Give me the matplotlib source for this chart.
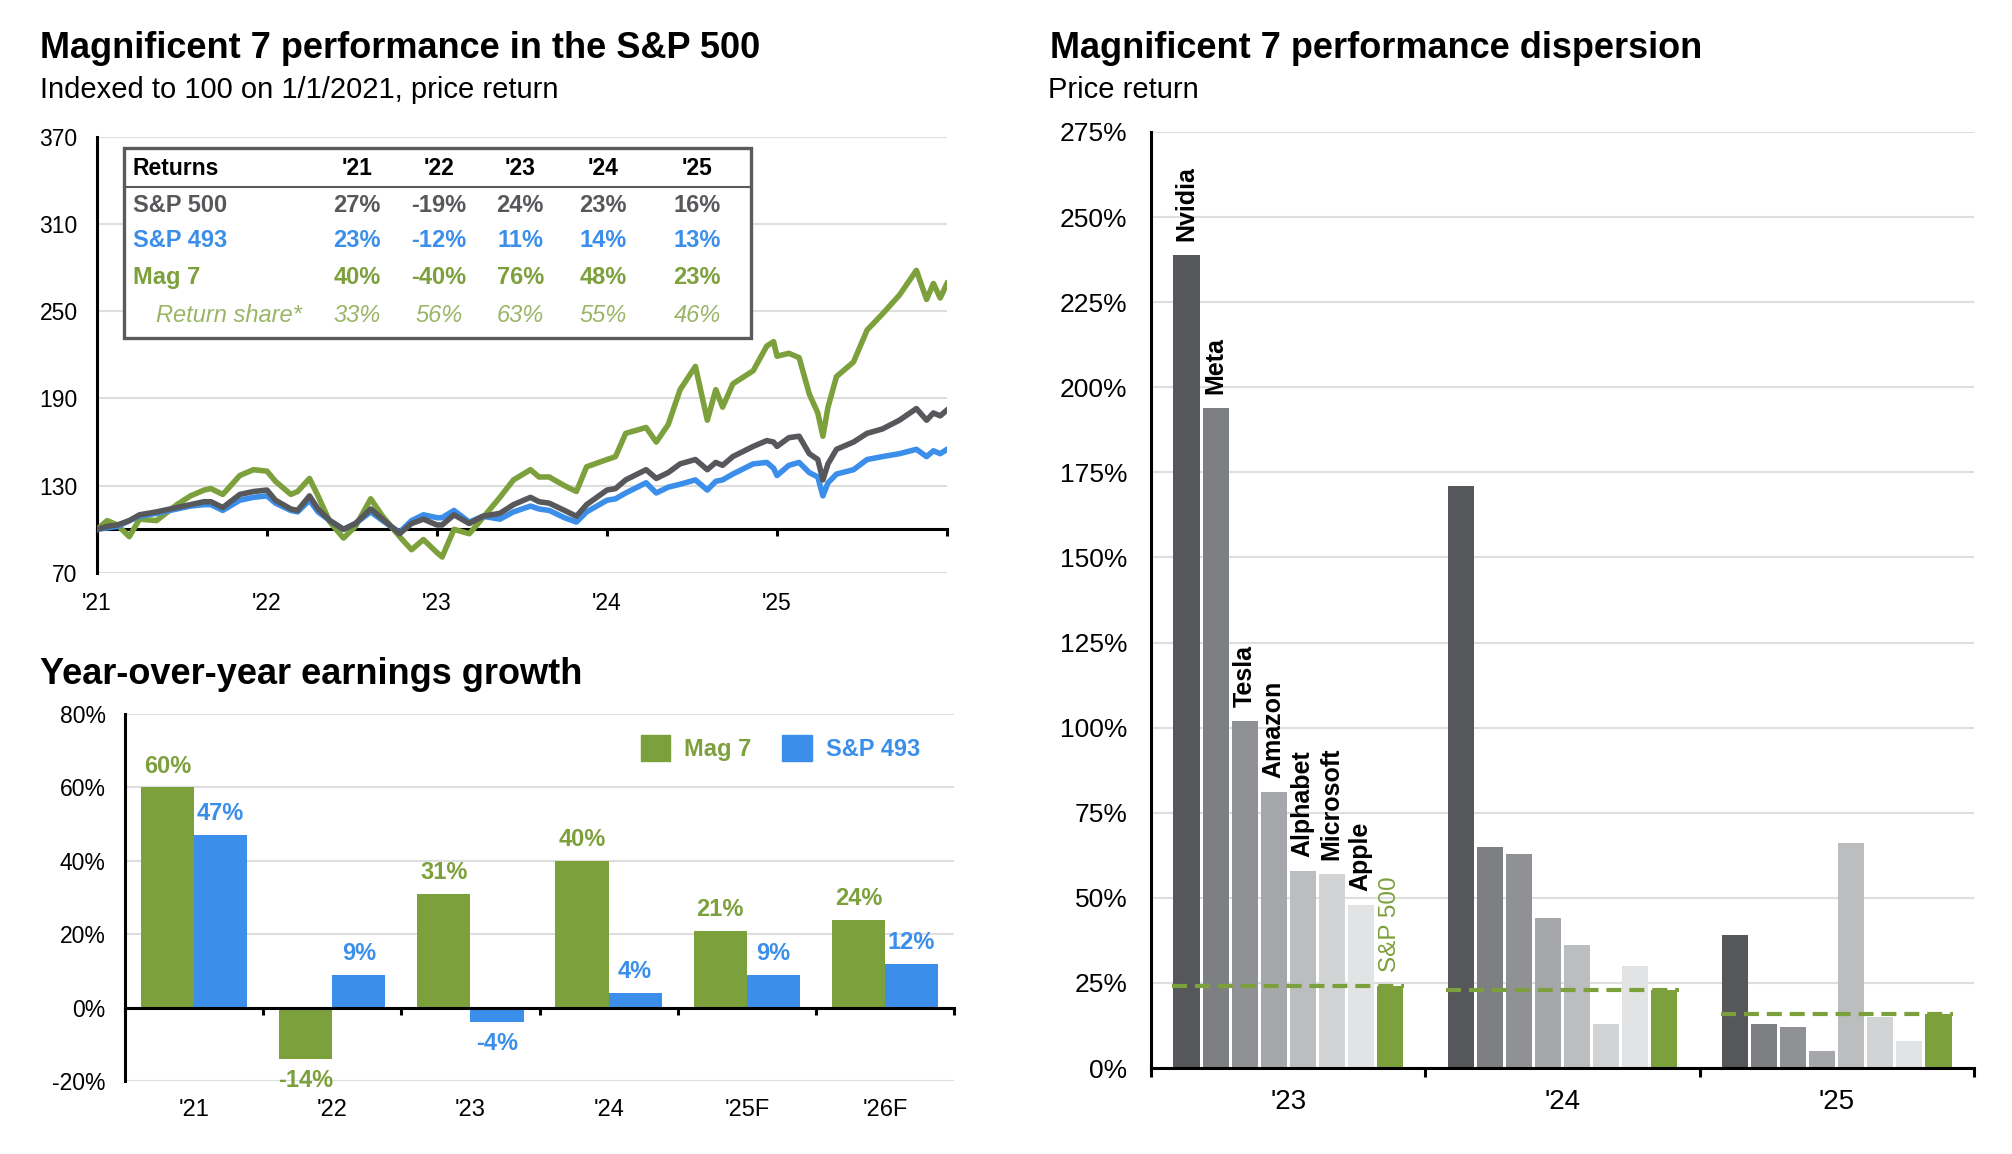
import matplotlib
matplotlib.use('Agg')
import matplotlib.pyplot as plt
from matplotlib.patches import Rectangle, Patch
from matplotlib.lines import Line2D

plt.rcParams['font.family'] = ['Liberation Sans', 'DejaVu Sans']

# ------------------------------------------------------------------ data
# Indexed performance (100 = 1/1/2021), x as decimal year
perf_dates = [2021.00, 2021.06, 2021.12, 2021.19, 2021.25, 2021.35, 2021.47, 2021.55,
              2021.63, 2021.67, 2021.74, 2021.84, 2021.92, 2022.00, 2022.05, 2022.14,
              2022.18, 2022.25, 2022.30, 2022.37, 2022.45, 2022.52, 2022.61, 2022.68,
              2022.78, 2022.85, 2022.92, 2023.00, 2023.03, 2023.10, 2023.19, 2023.27,
              2023.37, 2023.45, 2023.55, 2023.60, 2023.66, 2023.75, 2023.82, 2023.88,
              2024.00, 2024.05, 2024.11, 2024.23, 2024.29, 2024.36, 2024.43, 2024.52,
              2024.59, 2024.64, 2024.68, 2024.74, 2024.86, 2024.94, 2024.98, 2025.00,
              2025.07, 2025.13, 2025.19, 2025.24, 2025.27, 2025.30, 2025.35, 2025.45,
              2025.53, 2025.62, 2025.72, 2025.82, 2025.88, 2025.92, 2025.96, 2026.00]
mag7_index = [100, 106, 103, 95, 107, 106, 117, 123,
              127, 128, 124, 137, 141, 140, 133, 124,
              126, 135, 123, 105, 94, 102, 121, 109,
              95, 86, 93, 84, 81, 100, 97, 108,
              122, 134, 141, 136, 136, 130, 126, 143,
              148, 150, 166, 170, 160, 172, 196, 212,
              175, 196, 184, 200, 209, 226, 229, 219,
              221, 218, 193, 180, 164, 184, 205, 215,
              237, 248, 261, 278, 258, 269, 259, 269]
sp500_index = [100, 102, 103, 106, 110, 112, 115, 117,
               119, 119, 115, 124, 126, 127, 120, 114,
               113, 123, 114, 106, 100, 104, 114, 107,
               97, 104, 107, 103, 103, 110, 104, 109,
               111, 117, 122, 119, 118, 113, 109, 117,
               127, 128, 134, 141, 135, 139, 145, 148,
               141, 146, 144, 150, 157, 161, 160, 157,
               163, 164, 152, 148, 134, 145, 155, 160,
               166, 169, 175, 183, 175, 180, 178, 182]
sp493_index = [100, 101, 102, 106, 109, 111, 114, 116,
               117, 117, 113, 120, 122, 123, 118, 113,
               112, 120, 112, 106, 100, 104, 112, 106,
               98, 106, 110, 108, 108, 113, 105, 109,
               107, 112, 116, 114, 113, 108, 105, 112,
               120, 121, 125, 132, 125, 129, 131, 134,
               127, 133, 134, 138, 145, 146, 142, 137,
               144, 146, 139, 136, 123, 132, 138, 141,
               148, 150, 152, 155, 150, 154, 152, 155]

# Returns table
table_years = ["'21", "'22", "'23", "'24", "'25"]
sp500_returns = [27, -19, 24, 23, 16]
sp493_returns = [23, -12, 11, 14, 13]
mag7_returns = [40, -40, 76, 48, 23]
return_share = [33, 56, 63, 55, 46]

# Year-over-year earnings growth (%)
eps_years = ["'21", "'22", "'23", "'24", "'25F", "'26F"]
mag7_eps = [60, -14, 31, 40, 21, 24]
sp493_eps = [47, 9, -4, 4, 9, 12]

# Dispersion (price return, %)
disp_years = ["'23", "'24", "'25"]
disp_names = ['Nvidia', 'Meta', 'Tesla', 'Amazon', 'Alphabet', 'Microsoft', 'Apple', 'S&P 500']
disp_2023 = [239, 194, 102, 81, 58, 57, 48, 24]
disp_2024 = [171, 65, 63, 44, 36, 13, 30, 23]
disp_2025 = [39, 13, 12, 5, 66, 15, 8, 16]

# ------------------------------------------------------------------ style
GREEN = '#7ca03b'
BLUE = '#3b8fea'
GRAY = '#56585b'
SHARE_GREEN = '#9ab566'
GRID = '#dedede'
BAR_GRAYS = ['#55575a', '#7d7f82', '#8f9194', '#a5a7aa', '#bcbdbf', '#d2d3d4', '#e2e3e4', GREEN]

W, H = 2012, 1154
fig = plt.figure(figsize=(W / 100, H / 100), dpi=100)


def rect(l, t, r, b):
    return [l / W, 1 - b / H, (r - l) / W, (b - t) / H]


def pct(v):
    return f"{v}%"

# ------------------------------------------------------------------ titles
fig.text(40 / W, 1 - 49 / H, 'Magnificent 7 performance in the S&P 500', fontsize=26,
         fontweight='bold', va='center', ha='left')
fig.text(40 / W, 1 - 90 / H, 'Indexed to 100 on 1/1/2021, price return', fontsize=21,
         va='center', ha='left')
fig.text(40 / W, 1 - 675 / H, 'Year-over-year earnings growth', fontsize=26,
         fontweight='bold', va='center', ha='left')
fig.text(1050 / W, 1 - 49 / H, 'Magnificent 7 performance dispersion', fontsize=26,
         fontweight='bold', va='center', ha='left')
fig.text(1048 / W, 1 - 90 / H, 'Price return', fontsize=21, va='center', ha='left')

# ------------------------------------------------------------------ line chart
ax1 = fig.add_axes(rect(97, 136.5, 947, 573))
ax1.plot(perf_dates, mag7_index, color=GREEN, lw=4, zorder=3, solid_joinstyle='round')
ax1.plot(perf_dates, sp493_index, color=BLUE, lw=4, zorder=4, solid_joinstyle='round')
ax1.plot(perf_dates, sp500_index, color=GRAY, lw=4, zorder=5, solid_joinstyle='round')
ax1.set_xlim(2021, 2026)
ax1.set_ylim(70, 370)
ax1.set_yticks(range(70, 371, 60))
ax1.grid(axis='y', color=GRID, lw=1.5)
ax1.set_axisbelow(True)
for s in ['top', 'right']:
    ax1.spines[s].set_visible(False)
ax1.spines['left'].set_linewidth(2.2)
ax1.spines['bottom'].set_position(('data', 100))
ax1.spines['bottom'].set_linewidth(2.2)
ax1.set_xticks(range(2021, 2027))
ax1.set_xticklabels(["'21", "'22", "'23", "'24", "'25", ""])
ax1.tick_params(axis='y', length=0, pad=14, labelsize=16.5)
ax1.tick_params(axis='x', length=5, width=2.2, direction='out', pad=40, labelsize=16.5)

# returns table
box = Rectangle((0.032, 0.538), 0.737, 0.436, transform=ax1.transAxes, facecolor='white',
                edgecolor='#5a5a5a', lw=2.4, zorder=10)
ax1.add_patch(box)
ax1.add_line(Line2D([0.032, 0.769], [0.884, 0.884], transform=ax1.transAxes,
                    color='#5a5a5a', lw=1.5, zorder=11))
col_x = [0.306, 0.402, 0.498, 0.595, 0.706]
row_y = [0.926, 0.843, 0.761, 0.676, 0.589]
ax1.text(0.042, row_y[0], 'Returns', transform=ax1.transAxes, fontsize=16.5,
         fontweight='bold', va='center', ha='left', zorder=12)
for cx, yl in zip(col_x, table_years):
    ax1.text(cx, row_y[0], yl, transform=ax1.transAxes, fontsize=16.5, fontweight='bold',
             va='center', ha='center', zorder=12)
rows = [('S&P 500', sp500_returns, GRAY),
        ('S&P 493', sp493_returns, BLUE),
        ('Mag 7', mag7_returns, GREEN)]
for (lab, vals, col), ry in zip(rows, row_y[1:4]):
    ax1.text(0.042, ry, lab, transform=ax1.transAxes, fontsize=17, fontweight='bold',
             color=col, va='center', ha='left', zorder=12)
    for cx, v in zip(col_x, vals):
        ax1.text(cx, ry, pct(v), transform=ax1.transAxes, fontsize=17, fontweight='bold',
                 color=col, va='center', ha='center', zorder=12)
ax1.text(0.069, row_y[4], 'Return share*', transform=ax1.transAxes, fontsize=17,
         style='italic', color=SHARE_GREEN, va='center', ha='left', zorder=12)
for cx, v in zip(col_x, return_share):
    ax1.text(cx, row_y[4], pct(v), transform=ax1.transAxes, fontsize=17, style='italic',
             color=SHARE_GREEN, va='center', ha='center', zorder=12)

# ------------------------------------------------------------------ earnings chart
ax2 = fig.add_axes(rect(125, 714, 954, 1081))
n = len(eps_years)
centers = [i + 0.5 for i in range(n)]
bw = 0.385
b1 = ax2.bar([c - bw / 2 for c in centers], mag7_eps, width=bw, color=GREEN, zorder=2,
             label='Mag 7')
b2 = ax2.bar([c + bw / 2 for c in centers], sp493_eps, width=bw, color=BLUE, zorder=2,
             label='S&P 493')
ax2.bar_label(b1, labels=[pct(v) for v in mag7_eps], padding=7, color=GREEN,
              fontsize=17, fontweight='bold')
ax2.bar_label(b2, labels=[pct(v) for v in sp493_eps], padding=7, color=BLUE,
              fontsize=17, fontweight='bold')
ax2.set_xlim(0, n)
ax2.set_ylim(-20, 80)
ax2.set_yticks(range(-20, 81, 20))
ax2.set_yticklabels([pct(v) for v in range(-20, 81, 20)])
ax2.grid(axis='y', color=GRID, lw=1.5)
ax2.set_axisbelow(True)
for s in ['top', 'right']:
    ax2.spines[s].set_visible(False)
ax2.spines['left'].set_linewidth(2.2)
ax2.spines['bottom'].set_position(('data', 0))
ax2.spines['bottom'].set_linewidth(2.2)
ax2.spines['bottom'].set_zorder(3)
ax2.set_xticks(range(n + 1))
ax2.set_xticklabels([])
ax2.set_xticks(centers, minor=True)
ax2.set_xticklabels(eps_years, minor=True)
ax2.tick_params(axis='x', which='major', length=5, width=2.2, direction='out')
ax2.tick_params(axis='x', which='minor', length=0, pad=66, labelsize=17)
ax2.tick_params(axis='y', length=0, pad=14, labelsize=16.5)
leg = ax2.legend(handles=[Patch(color=GREEN), Patch(color=BLUE)], labels=['Mag 7', 'S&P 493'],
                 loc='upper right', bbox_to_anchor=(0.985, 1.0), ncol=2, frameon=False,
                 handlelength=1.25, handleheight=1.3, handletextpad=0.6, columnspacing=1.3,
                 prop={'size': 17, 'weight': 'bold'}, labelcolor=[GREEN, BLUE])

# ------------------------------------------------------------------ dispersion chart
ax3 = fig.add_axes(rect(1151, 132, 1974, 1068))
margin = 0.0766
slot = (1 - 2 * margin) / len(disp_names)
barw = slot * 0.9
for g, vals in enumerate([disp_2023, disp_2024, disp_2025]):
    xs = [g + margin + (j + 0.5) * slot for j in range(len(vals))]
    bars = ax3.bar(xs, vals, width=barw, color=BAR_GRAYS, zorder=2)
    ax3.hlines(vals[-1], g + margin, g + 1 - margin, colors=GREEN, lw=3,
               linestyles=(0, (3.6, 1.9)), zorder=3)
    if g == 0:
        ax3.bar_label(bars, labels=disp_names[:-1] + [''], rotation=90, padding=10,
                      fontsize=18, fontweight='bold', color='black')
        ax3.bar_label(bars, labels=[''] * (len(vals) - 1) + [disp_names[-1]], rotation=90,
                      padding=10, fontsize=17.5, color=GREEN)
ax3.set_xlim(0, 3)
ax3.set_ylim(0, 275)
ax3.set_yticks(range(0, 276, 25))
ax3.set_yticklabels([pct(v) for v in range(0, 276, 25)])
ax3.grid(axis='y', color=GRID, lw=1.5)
ax3.set_axisbelow(True)
for s in ['top', 'right']:
    ax3.spines[s].set_visible(False)
ax3.spines['left'].set_linewidth(2.2)
ax3.spines['bottom'].set_linewidth(2.2)
ax3.set_xticks(range(4))
ax3.set_xticklabels([])
ax3.set_xticks([0.5, 1.5, 2.5], minor=True)
ax3.set_xticklabels(disp_years, minor=True)
ax3.tick_params(axis='x', which='major', length=6.5, width=2.2, direction='out')
ax3.tick_params(axis='x', which='minor', length=0, pad=15, labelsize=20)
ax3.tick_params(axis='y', length=0, pad=17, labelsize=19)

fig.savefig('out.png', dpi=100, facecolor='white')
